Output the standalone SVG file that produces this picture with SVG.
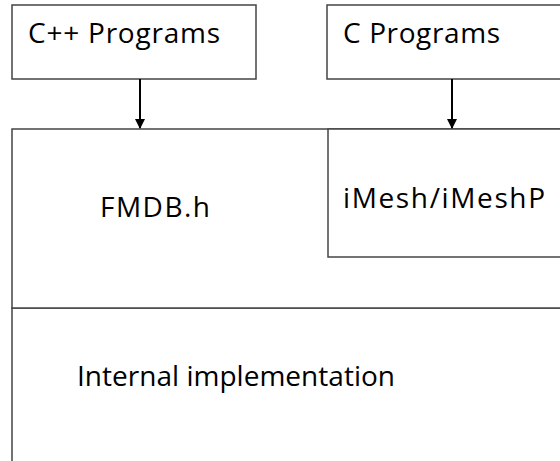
<svg xmlns="http://www.w3.org/2000/svg" width="560" height="461" viewBox="0 0 560 461">
<defs>
<marker id="arr" markerWidth="10" markerHeight="10" refX="9" refY="5" orient="auto" markerUnits="userSpaceOnUse" viewBox="0 0 10 10"><path d="M0,0 L10,5 L0,10 Z" fill="#000"/></marker>
</defs>
<style>
.box{fill:#fff;stroke:#444;stroke-width:1.5}
.lbl{font-family:"Open Sans","Liberation Sans",sans-serif;font-size:28px;fill:#000}
.conn{stroke:#000;stroke-width:2;fill:none}
</style>
<rect width="560" height="461" fill="#fff"/>
<g id="internal">
<rect class="box" x="12" y="308" width="560" height="170"/>
<text class="lbl" x="77" y="386" textLength="318" lengthAdjust="spacing">Internal implementation</text>
</g>
<g id="fmdb">
<rect class="box" x="12" y="129" width="560" height="179"/>
<text class="lbl" x="100" y="217" textLength="110" lengthAdjust="spacing">FMDB.h</text>
</g>
<g id="imesh">
<rect class="box" x="328" y="129" width="250" height="128"/>
<text class="lbl" x="343" y="208" textLength="202" lengthAdjust="spacing">iMesh/iMeshP</text>
</g>
<g id="cpp">
<rect class="box" x="12" y="5" width="244" height="74"/>
<text class="lbl" x="28" y="43" textLength="192" lengthAdjust="spacing">C++ Programs</text>
</g>
<g id="c">
<rect class="box" x="327" y="5" width="250" height="74"/>
<text class="lbl" x="343" y="43" textLength="157" lengthAdjust="spacing">C Programs</text>
</g>
<g id="connectors">
<line class="conn" x1="140" y1="79" x2="140" y2="128" marker-end="url(#arr)"/>
<line class="conn" x1="452" y1="79" x2="452" y2="128" marker-end="url(#arr)"/>
</g>
</svg>
